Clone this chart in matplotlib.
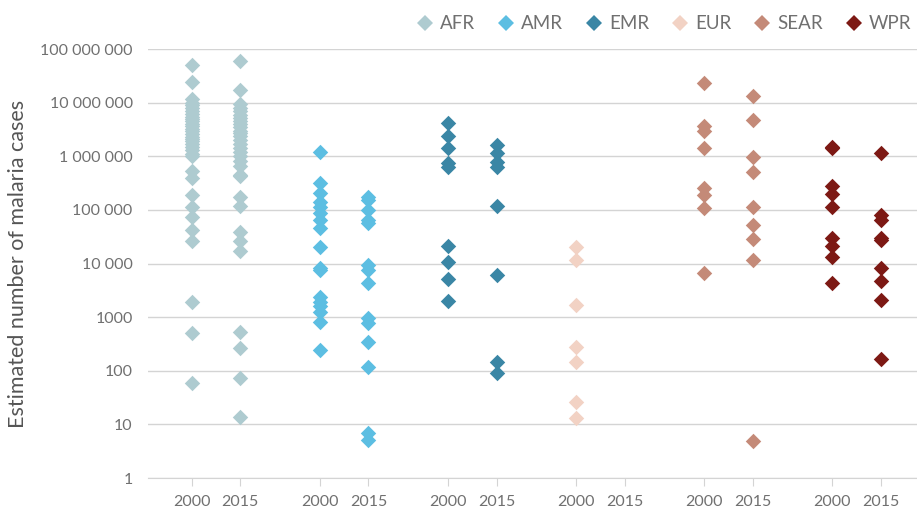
import numpy as np
import matplotlib
matplotlib.use("Agg")
import matplotlib.pyplot as plt
from matplotlib.lines import Line2D

plt.rcParams['font.family'] = ['Lato', 'DejaVu Sans']

# regions and colours
regions = ['AFR', 'AMR', 'EMR', 'EUR', 'SEAR', 'WPR']
colors = ['#aecbd0', '#5cbee2', '#3a86a5', '#f2d2c4', '#c48a78', '#7d1914']
years = ['2000', '2015']

# estimated malaria cases per country
afr_2000 = [51e6, 24e6, 11.5e6, 10e6, 9e6, 8e6, 7e6, 6.2e6, 5.5e6, 5e6, 4.5e6,
            4e6, 3.6e6, 3.2e6, 2.9e6, 2.6e6, 2.3e6, 2.1e6, 1.9e6, 1.7e6, 1.5e6,
            1.3e6, 1.1e6, 1.0e6, 520e3, 400e3, 190e3, 113e3, 74e3, 42e3, 26e3,
            1950, 500, 60]
afr_2015 = [60e6, 17.5e6, 9.5e6, 8e6, 7e6, 6e6, 5.2e6, 4.5e6, 4e6, 3.5e6, 3e6,
            2.7e6, 2.4e6, 2e6, 1.7e6, 1.4e6, 1.2e6, 1e6, 800e3, 650e3, 450e3,
            420e3, 175e3, 120e3, 39e3, 26e3, 17e3, 530, 270, 73, 14]
amr_2000 = [1.22e6, 313e3, 204e3, 142e3, 115e3, 86e3, 65e3, 45e3, 20.6e3,
            8.1e3, 7.6e3, 2.4e3, 1.9e3, 1.6e3, 1.25e3, 822, 244]
amr_2015 = [175e3, 153e3, 100e3, 65e3, 56e3, 9.3e3, 7.6e3, 4.3e3, 960, 768,
            348, 119, 6.8, 5.1]
emr_2000 = [4.1e6, 2.39e6, 1.41e6, 741e3, 622e3, 21.2e3, 10.8e3, 5.1e3, 2.0e3]
emr_2015 = [1.62e6, 1.14e6, 790e3, 638e3, 117e3, 6.1e3, 148, 89]
eur_2000 = [20.6e3, 11.6e3, 1.68e3, 282, 145, 26, 13.4]
eur_2015 = []
sear_2000 = [23e6, 3.7e6, 3.0e6, 1.4e6, 251e3, 190e3, 107e3, 6.6e3]
sear_2015 = [13.4e6, 4.7e6, 955e3, 515e3, 115e3, 52e3, 28.7e3, 11.6e3, 4.9]
wpr_2000 = [1.5e6, 1.41e6, 279e3, 198e3, 112e3, 29.5e3, 21e3, 13.4e3, 4.3e3]
wpr_2015 = [1.16e6, 80e3, 65e3, 30e3, 28e3, 8.1e3, 4.8e3, 2.1e3, 163]

data = [(afr_2000, afr_2015), (amr_2000, amr_2015), (emr_2000, emr_2015),
        (eur_2000, eur_2015), (sear_2000, sear_2015), (wpr_2000, wpr_2015)]

y_ticks = [1, 10, 100, 1000, 1e4, 1e5, 1e6, 1e7, 1e8]
y_labels = ['1', '10', '100', '1000', '10 000', '100 000', '1 000 000',
            '10 000 000', '100 000 000']

fig = plt.figure(figsize=(9.17, 5.09), dpi=100)
ax = fig.add_axes([0.1614, 0.0609, 0.8386, 0.8428])

off = 0.19
xt, xl = [], []
for i, (region, color, (v00, v15)) in enumerate(zip(regions, colors, data)):
    for x, vals in ((i - off, v00), (i + off, v15)):
        if vals:
            ax.scatter(np.full(len(vals), x), vals, marker='D', s=62,
                       color=color, linewidths=0, zorder=3)
    xt += [i - off, i + off]
    xl += years

ax.set_yscale('log')
ax.set_ylim(1, 1e8)
ax.set_xlim(-0.53, 5.47)
ax.set_yticks(y_ticks)
ax.set_yticklabels(y_labels)
ax.minorticks_off()
ax.set_xticks(xt)
ax.set_xticklabels(xl)

ax.grid(axis='y', color='#d4d4d4', linewidth=1)
ax.set_axisbelow(True)
for s in ['top', 'right', 'left']:
    ax.spines[s].set_visible(False)
ax.spines['bottom'].set_color('#d4d4d4')
ax.tick_params(axis='y', length=0, pad=11, labelsize=11.5, labelcolor='#707070')
ax.tick_params(axis='x', length=6, color='#d4d4d4', pad=6, labelsize=11.5,
               labelcolor='#707070')
ax.set_ylabel('Estimated number of malaria cases', fontsize=15.5,
              color='#555555', labelpad=9)

handles = [Line2D([], [], marker='D', linestyle='none', markersize=8,
                  markerfacecolor=c, markeredgewidth=0, label=r)
           for r, c in zip(regions, colors)]
leg = fig.legend(handles=handles, loc='upper right',
                 bbox_to_anchor=(1.004, 0.988), ncol=6, frameon=False,
                 fontsize=13.5, handletextpad=0.4, columnspacing=1.25,
                 handlelength=0.8, borderaxespad=0.2, borderpad=0.3)
for t in leg.get_texts():
    t.set_color('#707070')

fig.savefig('out.png', dpi=100)
